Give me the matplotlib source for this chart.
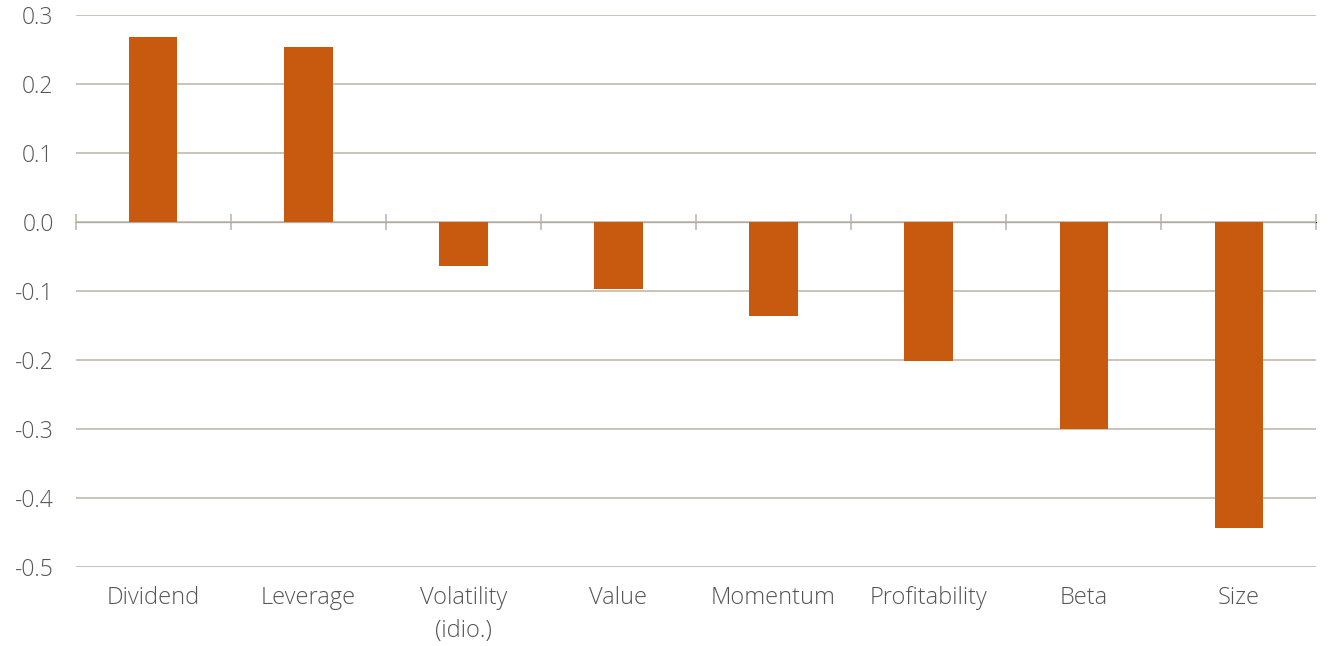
import matplotlib.pyplot as plt
import numpy as np

factors = ["Dividend", "Leverage", "Volatility\n(idio.)", "Value", "Momentum",
           "Profitability", "Beta", "Size"]
values = [0.268, 0.254, -0.064, -0.097, -0.136, -0.201, -0.300, -0.444]
y_ticks = [0.3, 0.2, 0.1, 0.0, -0.1, -0.2, -0.3, -0.4, -0.5]

BAR = "#C85A0F"
GRID = "#C4BFB4"
TEXT = "#555555"

plt.rcParams["font.family"] = ["Open Sans", "DejaVu Sans"]
plt.rcParams["font.weight"] = "light"

fig = plt.figure(figsize=(13.35, 6.46), dpi=100)
ax = fig.add_axes([0.0569, 0.1223, 0.9289, 0.8545])

x = np.arange(len(factors))
ax.bar(x, values, width=0.31, color=BAR, zorder=3)

ax.set_xlim(-0.5, len(factors) - 0.5)
ax.set_ylim(-0.5, 0.3)
ax.set_yticks(y_ticks)
ax.set_yticklabels([f"{v:.1f}" for v in y_ticks])
ax.yaxis.grid(True, color=GRID, linewidth=1.3, zorder=0)
ax.set_axisbelow(True)

ax.set_xticks(x)
ax.set_xticklabels(factors, linespacing=1.45)
ax.tick_params(axis="x", length=0, pad=14, labelsize=17, labelcolor=TEXT)
ax.tick_params(axis="y", length=0, pad=16, labelsize=16.5, labelcolor=TEXT)
for s in ax.spines.values():
    s.set_visible(False)

# zero line with category separators
zero_loc = (0 - ax.get_ylim()[0]) / (ax.get_ylim()[1] - ax.get_ylim()[0])
sec = ax.secondary_xaxis(zero_loc)
sec.set_xticks(np.arange(len(factors) + 1) - 0.5)
sec.set_xticklabels([])
sec.tick_params(axis="x", direction="inout", length=11, width=1.3, color=GRID)
sec.spines["bottom"].set_color(GRID)
sec.spines["bottom"].set_linewidth(1.3)
sec.spines["bottom"].set_zorder(4)

fig.savefig("out.png", dpi=100)
